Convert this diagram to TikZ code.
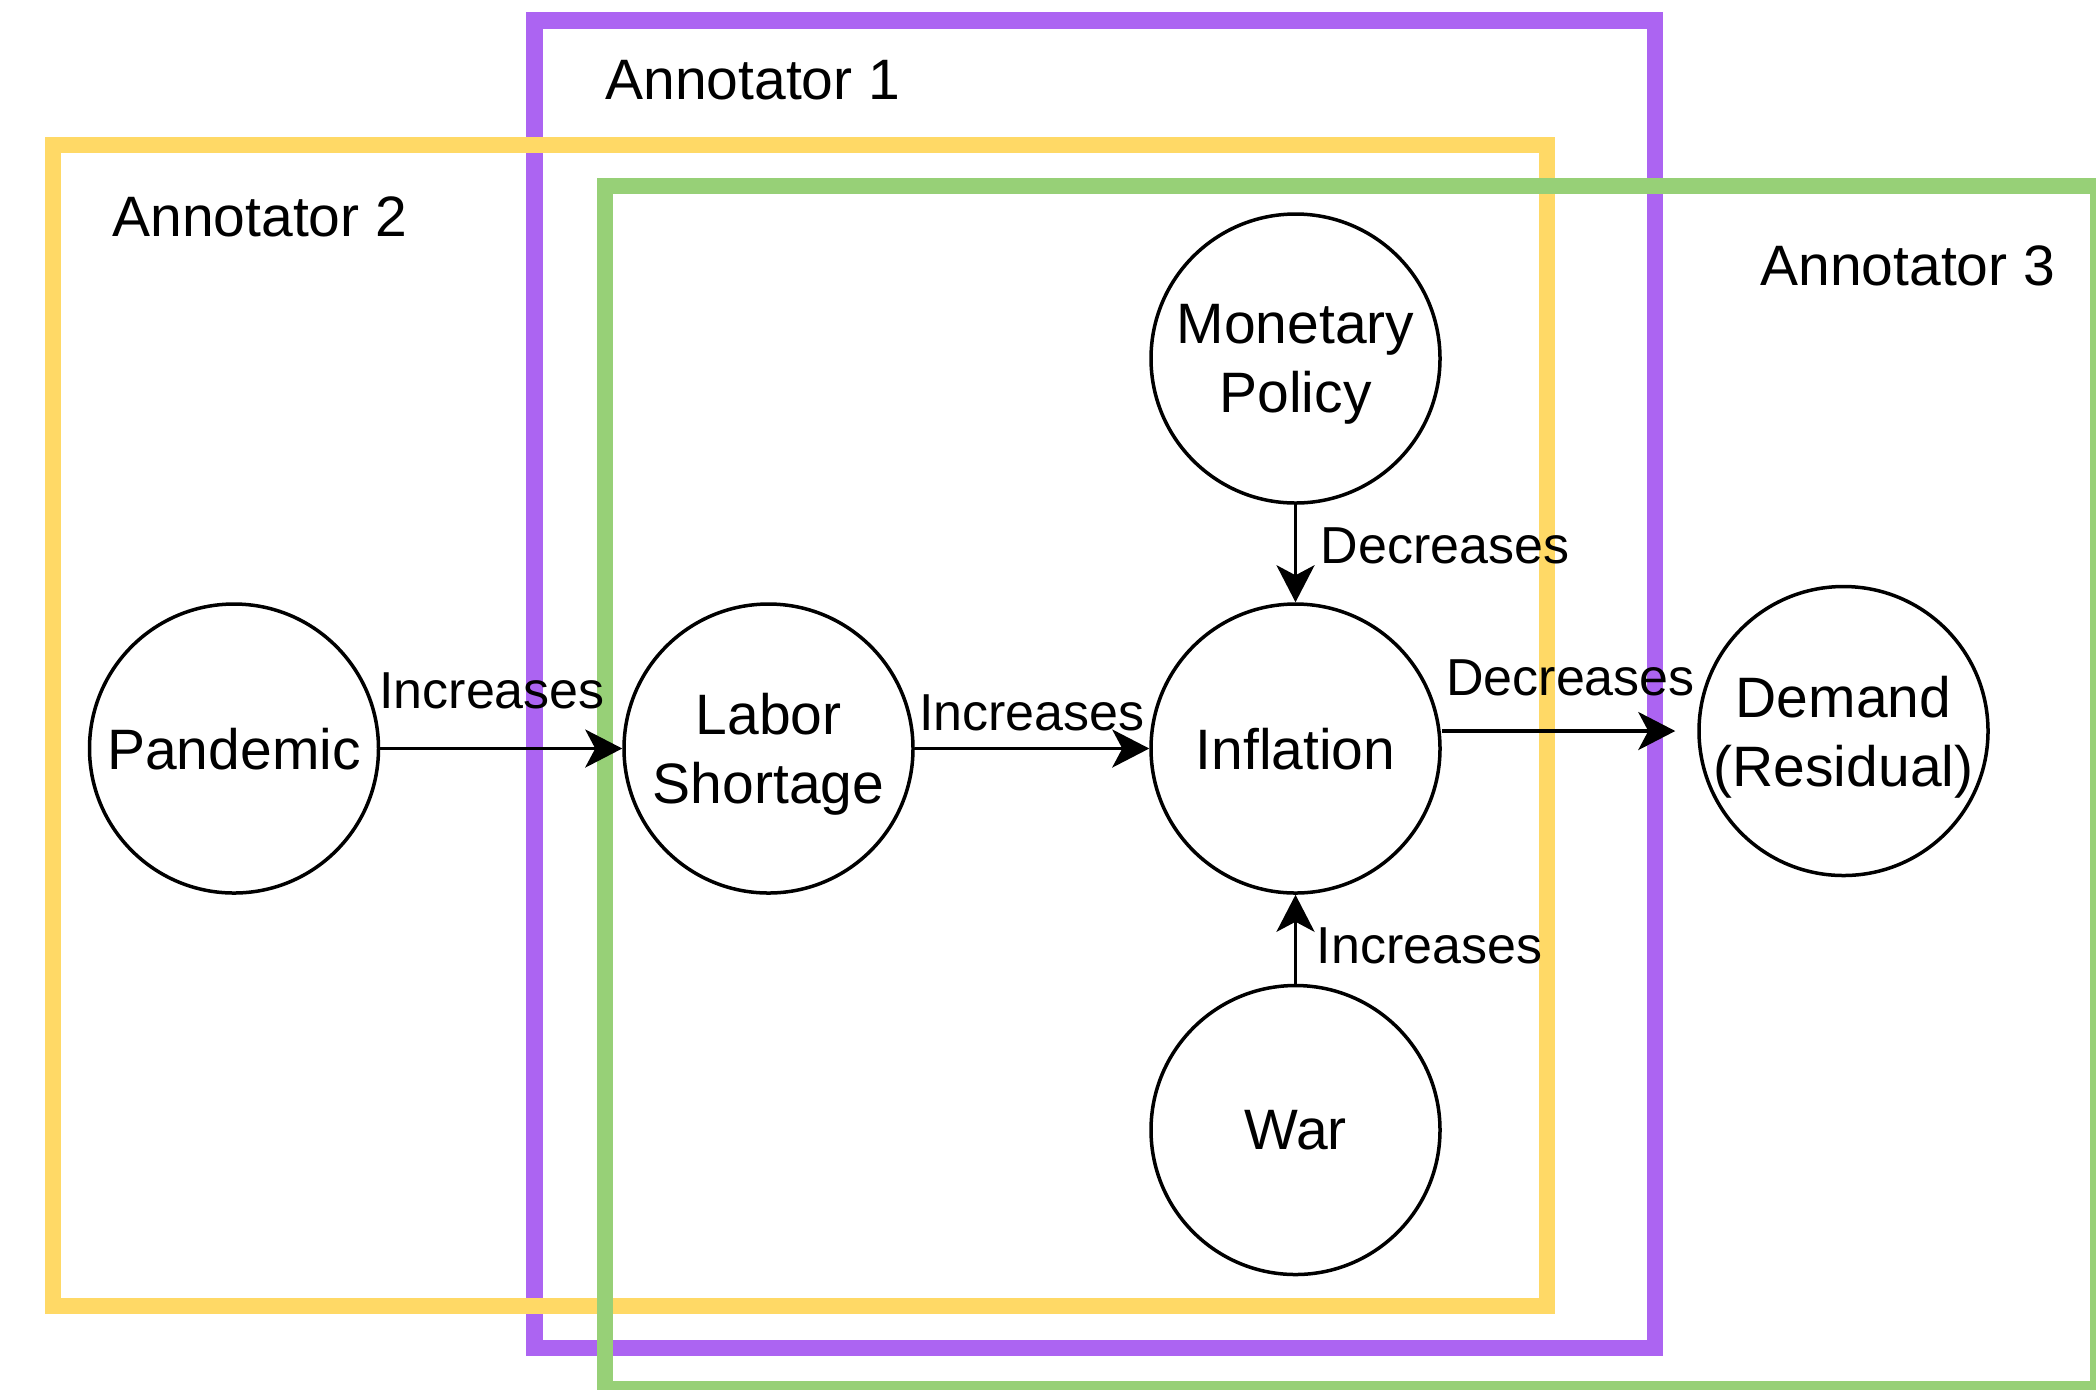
\documentclass[tikz,border=0pt]{standalone}
\usepackage{fontspec}
\setmainfont{Liberation Sans}
\usetikzlibrary{arrows.meta}
\definecolor{annpurple}{HTML}{AC64F2}
\definecolor{annyellow}{HTML}{FFD966}
\definecolor{anngreen}{HTML}{97D077}

\begin{document}
\begin{tikzpicture}[x=0.5pt, y=-0.5pt,
  annbox/.style={line width=8.25pt},
  anntitle/.style={inner sep=0pt, anchor=base west, font=\fontsize{28.5}{34}\selectfont},
  factor/.style={circle, draw, line width=1.75pt, fill=white, minimum size=144.5pt,
    inner sep=0pt, align=center, text depth=0pt, font=\fontsize{28.5}{34.5}\selectfont},
  effect/.style={-{Stealth[length=18.5pt, width=19pt, inset=5pt]}, line width=1.75pt},
  lbl/.style={inner sep=0pt, font=\fontsize{26}{31}\selectfont}]
\useasboundingbox (0,0) rectangle (2096,1389);

% draw the annotator boxes
\draw[annbox, annpurple] (534.5,20.5) rectangle (1655,1348);
\draw[annbox, annyellow] (53,145) rectangle (1547,1306);
\draw[annbox, anngreen] (605,186) rectangle (2098,1389);

% box titles
\node[anntitle] (ann1) at (605,99) {Annotator 1};
\node[anntitle] (ann2) at (112,236.6) {Annotator 2};
\node[anntitle] (ann3) at (1760,285.7) {Annotator 3};

% draw nodes for the factors
\node[factor] (pandemic) at (234,748.5) {Pandemic};
\node[factor] (labor) at (768.5,748.5) {Labor\\Shortage};
\node[factor] (inflation) at (1295.5,748.5) {Inflation};
\node[factor] (monetary) at (1295.5,358.5) {Monetary\\Policy};
\node[factor] (war) at (1295.5,1130) {War};
\node[factor] (demand) at (1843.5,731) {Demand\\(Residual)};

% draw the effects
\draw[effect] (pandemic) -- node[lbl, anchor=base, xshift=-4.6pt, yshift=20.25pt] (l1) {Increases} (labor);
\draw[effect] (labor) -- node[lbl, anchor=base, yshift=9.25pt] (l2) {Increases} (inflation);
\draw[effect] (monetary) -- node[lbl, anchor=base west, xshift=11.75pt, yshift=-4.75pt] (l3) {Decreases} (inflation);
\draw[effect] (war) -- node[lbl, anchor=base west, xshift=9.75pt, yshift=-11.9pt] (l4) {Increases} (inflation);
\draw[effect, shorten >=11pt] (inflation.east |- demand) -- node[lbl, anchor=base, xshift=0.5pt, yshift=18pt] (l5) {Decreases} (demand);
\end{tikzpicture}
\end{document}
